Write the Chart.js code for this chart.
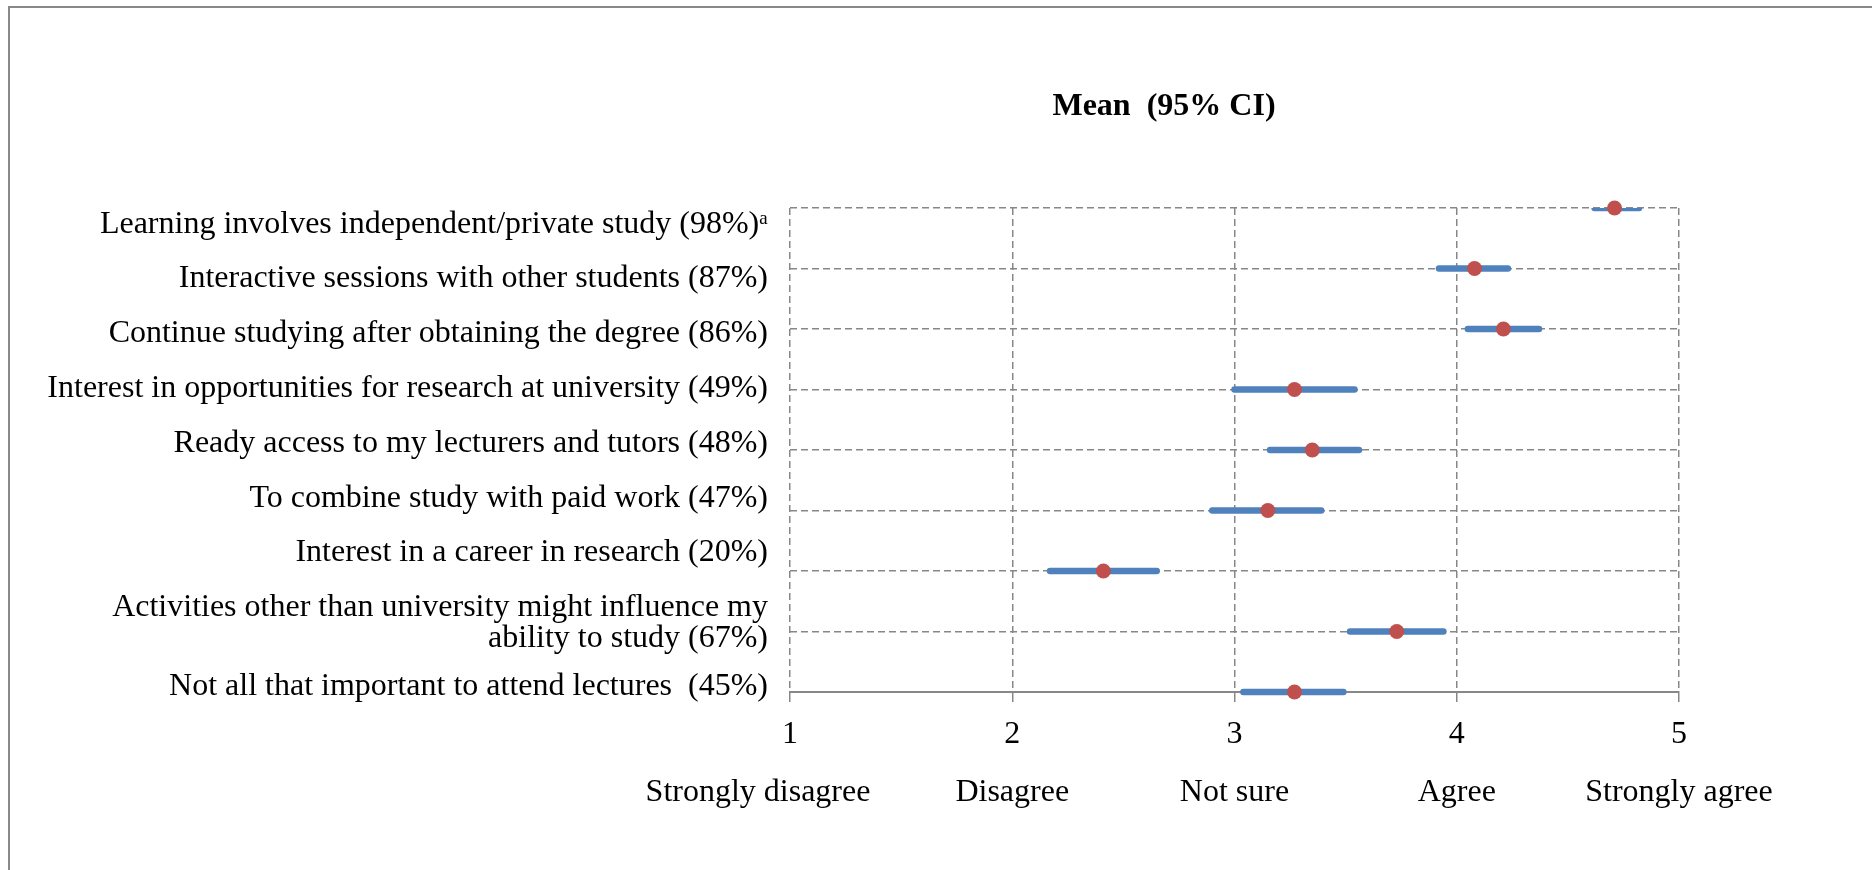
<!DOCTYPE html>
<html>
<head>
<meta charset="utf-8">
<title>Mean (95% CI)</title>
<script src="https://cdn.jsdelivr.net/npm/chart.js@4/dist/chart.umd.min.js"></script>
<style>
  html, body { margin: 0; padding: 0; background: #ffffff; }
  canvas { display: block; }
</style>
</head>
<body>
<canvas id="chart" width="1872" height="870"></canvas>
<script>
// Statements, top to bottom (percentage agreeing in brackets)
const categories = [
  'Learning involves independent/private study (98%)\u1D43',
  'Interactive sessions with other students (87%)',
  'Continue studying after obtaining the degree (86%)',
  'Interest in opportunities for research at university (49%)',
  'Ready access to my lecturers and tutors (48%)',
  'To combine study with paid work (47%)',
  'Interest in a career in research (20%)',
  ['Activities other than university might influence my', 'ability to study (67%)'],
  'Not all that important to attend lectures  (45%)'
];

// Mean score and 95% confidence interval for each statement
const means  = [4.71, 4.08, 4.21, 3.27, 3.35, 3.15, 2.41, 3.73, 3.27];
const ciLow  = [4.62, 3.92, 4.05, 3.00, 3.16, 2.90, 2.17, 3.52, 3.04];
const ciHigh = [4.82, 4.23, 4.37, 3.54, 3.56, 3.39, 2.65, 3.94, 3.49];

// Likert scale
const scaleValues = [1, 2, 3, 4, 5];
const scaleLabels = ['Strongly disagree', 'Disagree', 'Not sure', 'Agree', 'Strongly agree'];

const chartTitle = 'Mean  (95% CI)';

const FONT = "'Liberation Serif', 'Times New Roman', Times, serif";
const GRID = '#878787';
const BLUE = '#4F81BD';
const RED = '#C0504D';

// Row index (1 = top) for each statement
const rows = categories.map((_, i) => i + 1);

// Statement labels flow down the left side like a text column:
// one slot per line, a little tighter than the rows themselves.
function labelPositions() {
  let p = 1.27;
  return categories.map(lbl => {
    const n = Array.isArray(lbl) ? lbl.length : 1;
    const c = p + 0.25 * (n - 1);
    p += 0.905 + 0.4 * (n - 1);
    return c;
  });
}

const ciDatasets = rows.map((r, i) => ({
  type: 'line',
  data: [{ x: ciLow[i], y: r }, { x: ciHigh[i], y: r }],
  borderColor: BLUE,
  borderWidth: 6.5,
  borderCapStyle: 'round',
  pointRadius: 0,
  fill: false,
  order: 1,
  clip: { left: 10, right: 10, top: 0, bottom: 10 }
}));

const meanDataset = {
  type: 'scatter',
  data: rows.map((r, i) => ({ x: means[i], y: r })),
  backgroundColor: RED,
  borderColor: RED,
  borderWidth: 0,
  pointRadius: 7.5,
  order: 0,
  clip: false
};

// White page with the grey frame along the top and left edges
const framePlugin = {
  id: 'frame',
  beforeDraw(chart) {
    const ctx = chart.ctx;
    ctx.save();
    ctx.fillStyle = '#ffffff';
    ctx.fillRect(0, 0, chart.width, chart.height);
    ctx.strokeStyle = '#888888';
    ctx.lineWidth = 2;
    ctx.beginPath();
    ctx.moveTo(8, 7);
    ctx.lineTo(chart.width, 7);
    ctx.moveTo(9, 6);
    ctx.lineTo(9, chart.height);
    ctx.stroke();
    ctx.restore();
  }
};

// Heading above the plot
const headingPlugin = {
  id: 'heading',
  afterDraw(chart) {
    const ctx = chart.ctx;
    ctx.save();
    ctx.font = 'bold 32px ' + FONT;
    ctx.fillStyle = '#000000';
    ctx.textAlign = 'center';
    ctx.textBaseline = 'alphabetic';
    ctx.fillText(chartTitle, 1164, 115);
    ctx.restore();
  }
};

new Chart(document.getElementById('chart'), {
  data: { datasets: [meanDataset, ...ciDatasets] },
  options: {
    responsive: false,
    animation: false,
    events: [],
    layout: { padding: { left: 0, top: 208, right: 193, bottom: 0 } },
    plugins: { legend: { display: false }, tooltip: { enabled: false }, title: { display: false } },
    scales: {
      x: {
        type: 'linear',
        position: 'bottom',
        min: 1,
        max: 5,
        afterBuildTicks(scale) { scale.ticks = scaleValues.map(v => ({ value: v })); },
        afterFit(scale) { scale.height = 178; },
        grid: {
          color: GRID,
          lineWidth: 1.5,
          drawTicks: true,
          tickLength: 10,
          tickColor: GRID,
          tickWidth: 1.5
        },
        border: { display: true, color: GRID, width: 2, dash: [7, 4] },
        ticks: {
          autoSkip: false,
          maxRotation: 0,
          padding: 4,
          color: '#000000',
          font: { family: FONT, size: 32, lineHeight: 1.8 },
          callback(value, index) {
            // the leftmost description sits a little left of its tick
            const text = index === 0 ? scaleLabels[index] + '\u2003\u2003' : scaleLabels[index];
            return [String(scaleValues[index]), text];
          }
        }
      },
      y: {
        type: 'linear',
        position: 'left',
        weight: 0,
        reverse: true,
        min: 1,
        max: 9,
        afterBuildTicks(scale) { scale.ticks = rows.map(v => ({ value: v })); },
        afterFit(scale) { scale.width = 0; },
        grid: { color: GRID, lineWidth: 1.5, drawTicks: false },
        border: { display: false, dash: [7, 4] },
        ticks: { display: false }
      },
      yLabels: {
        type: 'linear',
        position: 'left',
        weight: 1,
        reverse: true,
        min: 1,
        max: 9,
        afterBuildTicks(scale) { scale.ticks = labelPositions().map(v => ({ value: v })); },
        afterFit(scale) { scale.width = 790; },
        grid: { display: false, drawTicks: false },
        border: { display: false },
        ticks: {
          autoSkip: false,
          padding: 22,
          color: '#000000',
          font: { family: FONT, size: 32, lineHeight: 0.97 },
          callback(value, index) { return categories[index]; }
        }
      }
    }
  },
  plugins: [framePlugin, headingPlugin]
});
</script>
</body>
</html>
